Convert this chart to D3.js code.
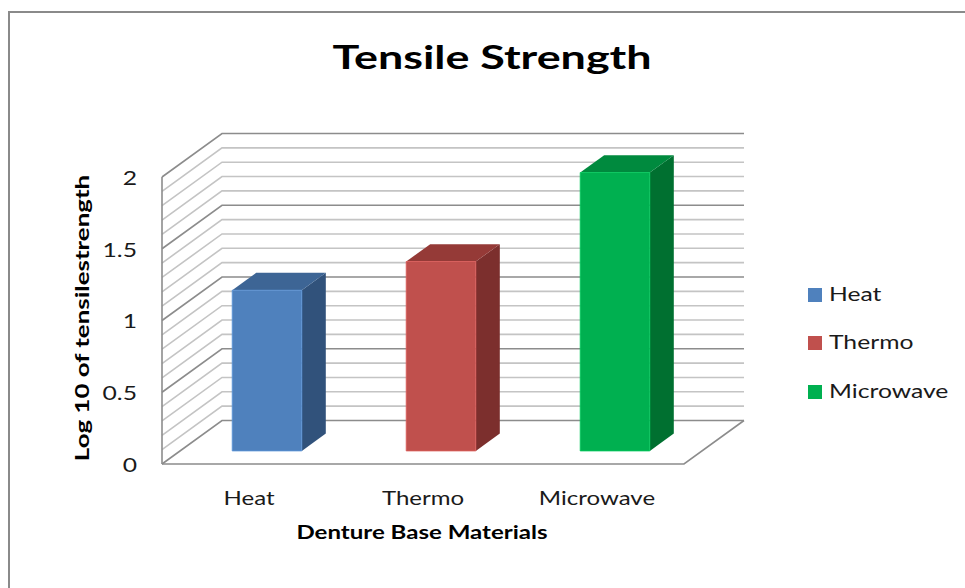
<!DOCTYPE html>
<html>
<head>
<meta charset="utf-8">
<script src="https://cdn.jsdelivr.net/npm/d3@7"></script>
<style>
  html, body { margin: 0; padding: 0; background: #fff; }
  svg { display: block; font-family: Lato, 'Open Sans', sans-serif; }
</style>
</head>
<body>
<div id="chart"></div>
<script>
// chart data
const categories = ['Heat', 'Thermo', 'Microwave'];
const values = [1.12, 1.32, 1.94];
const yTickValues = [0, 0.5, 1, 1.5, 2];
const frontColors = ['#4f81bd', '#c0504d', '#00b050'];
const topColors = ['#3d6595', '#953a37', '#008a3e'];
const sideColors = ['#31527b', '#7c2f2d', '#007030'];

const width = 965, height = 588;

// 3d box geometry (oblique projection)
const depthX = 60, depthY = 43.5;
const barZ = [0.3, 0.7];

// the source font is wide, so text gets stretched along its run
const textStretch = 1.3;
const boldStretch = 1.4;
const place = (px, py, sx, rot = 0) => `translate(${px},${py}) rotate(${rot}) scale(${sx},1)`;

const svg = d3.select('#chart').append('svg')
    .attr('width', width)
    .attr('height', height);

// outer frame
svg.append('rect')
    .attr('x', 9).attr('y', 12)
    .attr('width', width + 20).attr('height', height + 20)
    .attr('fill', '#fff')
    .attr('stroke', '#8a8a8a')
    .attr('stroke-width', 2);

const x = d3.scaleBand().domain(categories).range([162, 684]);
const y = d3.scaleLinear().domain([0, 2]).range([464, 177]);

// project a point on the front plane back by depth z (0..1)
const proj = (px, v, z) => [px + z * depthX, y(v) - z * depthY];

const wall = svg.append('g').attr('class', 'walls').attr('fill', 'none');

const minor = y.ticks(20);
const isMajor = v => yTickValues.some(t => Math.abs(t - v) < 1e-6);

// gridlines: left side wall diagonal + back wall horizontal
minor.forEach(v => {
    const a = proj(x.range()[0], v, 0);
    const b = proj(x.range()[0], v, 1);
    const c = proj(x.range()[1], v, 1);
    wall.append('path')
        .attr('d', `M${a[0]},${a[1]}L${b[0]},${b[1]}L${c[0]},${c[1]}`)
        .attr('stroke', isMajor(v) ? '#8c8c8c' : '#c4c4c4')
        .attr('stroke-width', 1.6);
});

// left wall front edge
const lw0 = proj(x.range()[0], 0, 0), lw1 = proj(x.range()[0], 2, 0);
wall.append('line')
    .attr('x1', lw0[0]).attr('y1', lw0[1])
    .attr('x2', lw1[0]).attr('y2', lw1[1])
    .attr('stroke', '#8c8c8c').attr('stroke-width', 1.6);

// floor outline
const f0 = proj(x.range()[0], 0, 0), f1 = proj(x.range()[1], 0, 0), f2 = proj(x.range()[1], 0, 1);
wall.append('path')
    .attr('d', `M${f0[0]},${f0[1]}L${f1[0]},${f1[1]}L${f2[0]},${f2[1]}`)
    .attr('stroke', '#8c8c8c').attr('stroke-width', 1.6);

// bars
const bars = svg.append('g').attr('class', 'bars');
categories.forEach((cat, i) => {
    const bw = x.bandwidth();
    const xl = x(cat) + bw * 0.3, xr = x(cat) + bw * 0.7;
    const v = values[i];
    const [z0, z1] = barZ;
    const p = (px, val, z) => proj(px, val, z).join(',');
    const g = bars.append('g');
    // side face
    g.append('path')
        .attr('d', `M${p(xr, 0, z0)}L${p(xr, 0, z1)}L${p(xr, v, z1)}L${p(xr, v, z0)}Z`)
        .attr('fill', sideColors[i]);
    // top face
    g.append('path')
        .attr('d', `M${p(xl, v, z0)}L${p(xr, v, z0)}L${p(xr, v, z1)}L${p(xl, v, z1)}Z`)
        .attr('fill', topColors[i]);
    // front face
    g.append('path')
        .attr('d', `M${p(xl, 0, z0)}L${p(xr, 0, z0)}L${p(xr, v, z0)}L${p(xl, v, z0)}Z`)
        .attr('fill', frontColors[i])
        .attr('stroke', d3.color(frontColors[i]).brighter(0.4))
        .attr('stroke-width', 0.8);
});

// y axis labels
svg.append('g').selectAll('text')
    .data(yTickValues)
    .join('text')
    .attr('transform', d => place(137, y(d) + 3, textStretch))
    .attr('text-anchor', 'end')
    .attr('dominant-baseline', 'middle')
    .attr('font-size', 19)
    .attr('fill', '#1a1a1a')
    .text(d => d);

// category labels
svg.append('g').selectAll('text')
    .data(categories)
    .join('text')
    .attr('transform', d => place(x(d) + x.bandwidth() / 2, 500, textStretch))
    .attr('text-anchor', 'middle')
    .attr('dominant-baseline', 'middle')
    .attr('font-size', 18.5)
    .attr('fill', '#1a1a1a')
    .text(d => d);

// titles
svg.append('text')
    .attr('transform', place(492, 69, 1.38))
    .attr('text-anchor', 'middle')
    .attr('font-size', 32.5)
    .attr('font-weight', 'bold')
    .attr('fill', '#000')
    .text('Tensile Strength');

svg.append('text')
    .attr('transform', place(422, 539, textStretch))
    .attr('text-anchor', 'middle')
    .attr('font-size', 18.5)
    .attr('font-weight', 'bold')
    .attr('fill', '#000')
    .text('Denture Base Materials');

svg.append('text')
    .attr('transform', place(89, 318, boldStretch, -90))
    .attr('text-anchor', 'middle')
    .attr('font-size', 18.5)
    .attr('font-weight', 'bold')
    .attr('fill', '#000')
    .text('Log 10 of tensilestrength');

// legend
const legend = svg.append('g').attr('transform', 'translate(808,0)');
const legendY = [295, 343, 392];
categories.forEach((cat, i) => {
    legend.append('rect')
        .attr('x', 0).attr('y', legendY[i] - 7)
        .attr('width', 14).attr('height', 14)
        .attr('fill', frontColors[i]);
    legend.append('text')
        .attr('transform', place(21, legendY[i] + 1, textStretch))
        .attr('dominant-baseline', 'middle')
        .attr('font-size', 19)
        .attr('fill', '#1a1a1a')
        .text(cat);
});
</script>
</body>
</html>
